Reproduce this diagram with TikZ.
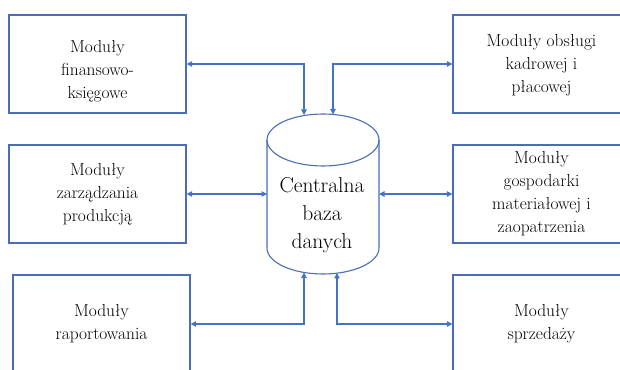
\documentclass[tikz,border=0pt]{standalone}
\usepackage{fontspec}
\usepackage{xcolor}
\usepackage{tikz}
\usetikzlibrary{calc,arrows.meta}
\definecolor{frame}{HTML}{4A6DB5}
\definecolor{wire}{HTML}{4472C4}
\definecolor{ink}{HTML}{000000}
\tikzset{
  modbox/.style={draw=frame, line width=1.3pt, minimum width=177pt, minimum height=98pt, inner sep=0pt},
  modtxt/.style={text=ink, align=center, font=\fontsize{17.4}{23}\selectfont},
  dbline/.style={draw=frame, line width=1.1pt},
  dbtxt/.style={text=ink, align=center, font=\fontsize{21.5}{28}\selectfont},
  link/.style={draw=wire, line width=1.1pt, {Triangle[length=5.5pt,width=5.5pt]}-{Triangle[length=5.5pt,width=5.5pt]}}
}

\begin{document}
\begin{tikzpicture}[x=1pt,y=1pt]
  \clip (0,0) rectangle (620,369);

  % module boxes
  \node[modbox] (fin)  at (97.5,305) {};
  \node[modbox] (prod) at (97.5,175) {};
  \node[modbox] (rap)  at (101.5,45) {};
  \node[modbox] (kadr) at (541.5,305) {};
  \node[modbox] (mat)  at (541.5,175) {};
  \node[modbox] (sprz) at (541.5,45) {};

  \node[modtxt] (fint)  at ([yshift=-7pt]fin.center) {Moduły\\finansowo-\\księgowe};
  \node[modtxt] (prodt) at (prod.center) {Moduły\\zarządzania\\produkcją};
  \node[modtxt] (rapt)  at (rap.center) {Moduły\\raportowania};
  \node[modtxt] (kadrt) at ([yshift=-1pt]kadr.center) {Moduły obsługi\\kadrowej i\\płacowej};
  \node[modtxt] (matt)  at (mat.center) {Moduły\\gospodarki\\materiałowej i\\zaopatrzenia};
  \node[modtxt] (sprzt) at (sprz.center) {Moduły\\sprzedaży};

  % database cylinder
  \draw[dbline] (323,229) ellipse (56 and 26);
  \draw[dbline] (267,229) -- (267,121) arc (180:360:56 and 26) -- (379,229);
  \node[dbtxt] (db) at (322,154) {Centralna\\baza\\danych};

  \coordinate (dbNW) at (304,254);
  \coordinate (dbNE) at (333,254.5);
  \coordinate (dbW)  at (267,175);
  \coordinate (dbE)  at (379,175);
  \coordinate (dbSW) at (304,96.5);
  \coordinate (dbSE) at (337,96);

  % connectors
  \draw[link] (fin.east) -| (dbNW);
  \draw[link] (dbNE) |- (kadr.west);
  \draw[link] (prod.east) -- (dbW);
  \draw[link] (dbE) -- (mat.west);
  \draw[link] (rap.east) -| (dbSW);
  \draw[link] (dbSE) |- (sprz.west);
\end{tikzpicture}
\end{document}
